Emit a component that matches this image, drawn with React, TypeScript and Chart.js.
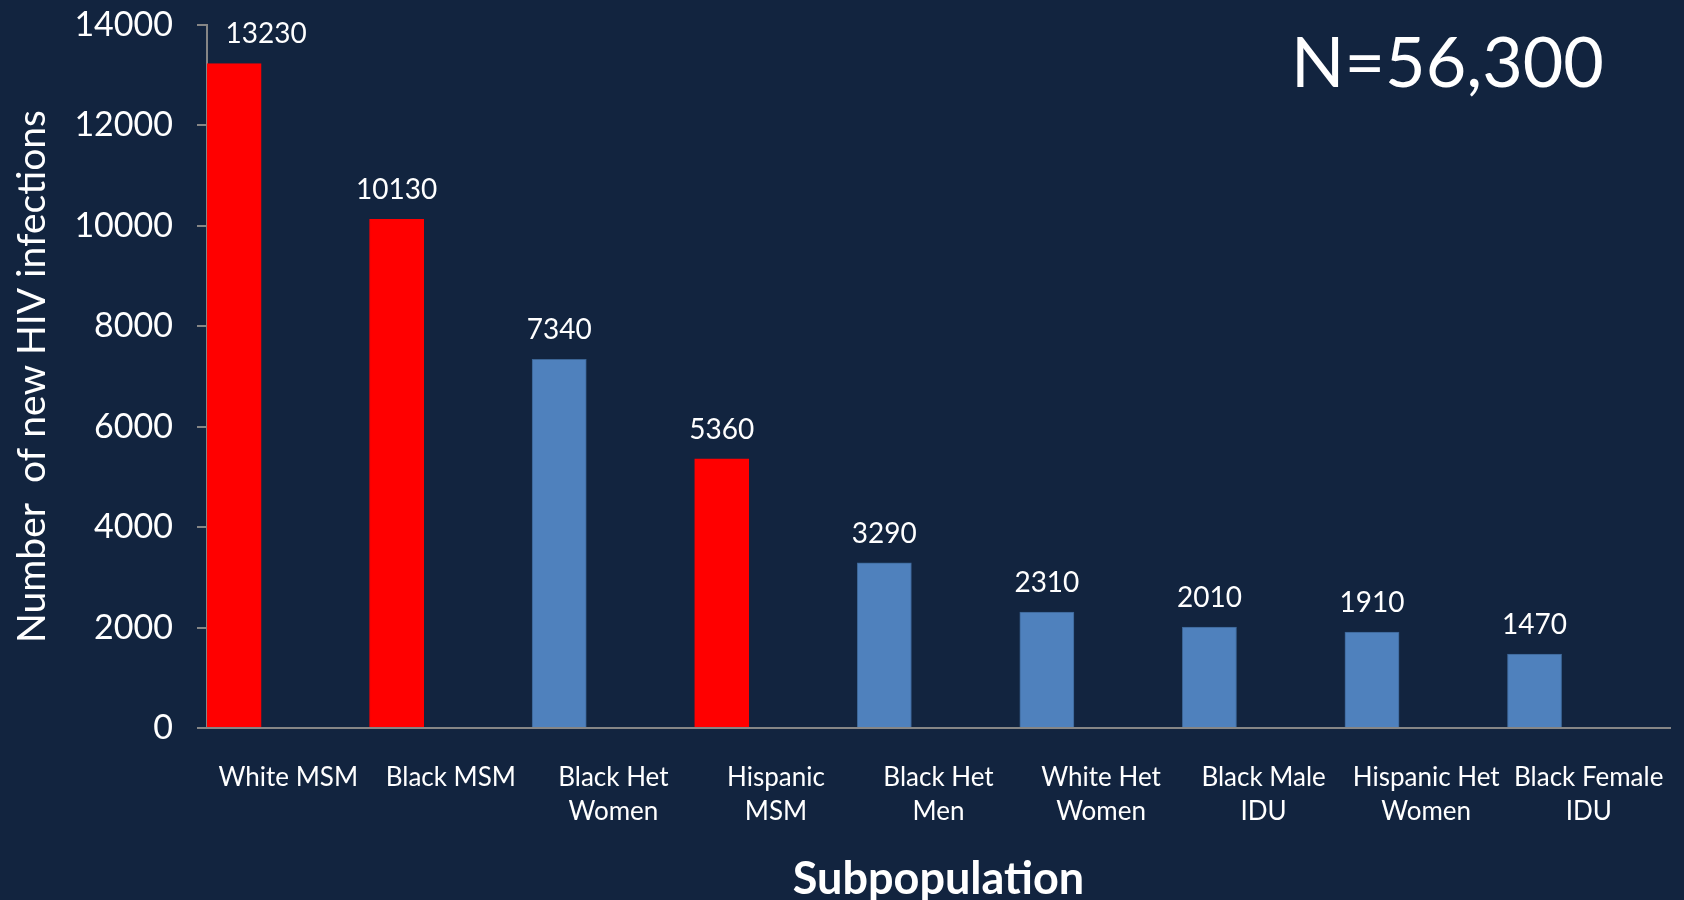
import React, { useEffect, useRef } from "react";
import { Chart, registerables } from "chart.js";

Chart.register(...registerables);

const categories: (string | string[])[] = [
  "White MSM",
  "Black MSM",
  ["Black Het", "Women"],
  ["Hispanic", "MSM"],
  ["Black Het", "Men"],
  ["White Het", "Women"],
  ["Black Male", "IDU"],
  ["Hispanic Het", "Women"],
  ["Black Female", "IDU"],
];
const infections: number[] = [13230, 10130, 7340, 5360, 3290, 2310, 2010, 1910, 1470];
const highlighted: boolean[] = [true, true, false, true, false, false, false, false, false];
const yTicks: number[] = [0, 2000, 4000, 6000, 8000, 10000, 12000, 14000];
const totalLabel = "N=56,300";
const yTitle = "Number  of new HIV infections";
const xTitle = "Subpopulation";

const BG = "#12243F";
const RED = "#FF0000";
const BLUE = "#4F81BD";
const BLUE_BORDER = "#3B6494";
const AXIS = "#868686";
const FONT = "Lato, 'Open Sans', sans-serif";

const W = 1684;
const H = 900;

export default function App() {
  const ref = useRef<HTMLCanvasElement | null>(null);

  useEffect(() => {
    if (!ref.current) return;
    const labelsPlugin = {
      id: "valueLabels",
      afterDatasetsDraw(chart: any) {
        const { ctx, chartArea } = chart;
        const meta = chart.getDatasetMeta(0);
        const size = 28;
        ctx.save();
        ctx.fillStyle = "#FFFFFF";
        ctx.font = `${size}px ${FONT}`;
        ctx.textAlign = "center";
        ctx.textBaseline = "middle";
        meta.data.forEach((bar: any, i: number) => {
          let x = bar.x;
          let y = bar.y - 29;
          if (y - size / 2 < chartArea.top) {
            x += 32;
            y -= 1;
          }
          ctx.fillText(String(infections[i]), x, y);
        });
        ctx.restore();
      },
      afterDraw(chart: any) {
        const { ctx } = chart;
        ctx.save();
        ctx.fillStyle = "#FFFFFF";
        ctx.font = `70px ${FONT}`;
        ctx.textAlign = "left";
        ctx.textBaseline = "middle";
        ctx.fillText(totalLabel, 1291, 64);
        ctx.restore();
      },
    };

    const chart = new Chart(ref.current, {
      type: "bar",
      data: {
        labels: categories,
        datasets: [
          {
            label: "New HIV infections",
            data: infections,
            backgroundColor: highlighted.map((h) => (h ? RED : BLUE)),
            borderColor: highlighted.map((h) => (h ? RED : BLUE_BORDER)),
            borderWidth: 1,
          },
          { label: "s2", data: [] },
          { label: "s3", data: [] },
        ],
      },
      options: {
        responsive: false,
        animation: false,
        datasets: { bar: { categoryPercentage: 1, barPercentage: 1 } },
        layout: { padding: { top: 25, right: 14, bottom: 0, left: 0 } },
        plugins: {
          legend: { display: false },
          tooltip: { enabled: false },
        },
        scales: {
          x: {
            grid: { display: false },
            border: { display: true, color: AXIS, width: 2 },
            ticks: {
              color: "#FFFFFF",
              font: { family: FONT, size: 26, lineHeight: 1.32 },
              padding: 24,
              maxRotation: 0,
              minRotation: 0,
              autoSkip: false,
            },
            title: {
              display: true,
              text: xTitle,
              color: "#FFFFFF",
              font: { family: FONT, size: 45, weight: "bold", lineHeight: 1 },
              padding: { top: 0, bottom: -2 },
            },
            afterFit: (s: any) => {
              s.height = 172;
              s.paddingLeft = 0;
              s.paddingRight = 0;
            },
          },
          y: {
            min: 0,
            max: 14000,
            afterBuildTicks: (s: any) => {
              s.ticks = yTicks.map((v) => ({ value: v }));
            },
            grid: {
              display: true,
              drawOnChartArea: false,
              drawTicks: true,
              tickLength: 10,
              color: AXIS,
              lineWidth: 2,
            },
            border: { display: true, color: AXIS, width: 2 },
            ticks: {
              color: "#FFFFFF",
              font: { family: FONT, size: 34 },
              padding: 24,
              callback: (v: any) => String(v),
            },
            title: {
              display: true,
              text: yTitle,
              color: "#FFFFFF",
              font: { family: FONT, size: 39, lineHeight: 1.2 },
              padding: { top: 9, bottom: 0 },
            },
            afterFit: (s: any) => {
              s.width = 207;
              s.paddingTop = 0;
              s.paddingBottom = 0;
            },
          },
        },
      },
      plugins: [labelsPlugin],
    });
    return () => chart.destroy();
  }, []);

  return (
    <div style={{ position: "fixed", left: 0, top: 0, width: W, height: H, background: BG, overflow: "hidden" }}>
      <canvas ref={ref} width={W} height={H} style={{ width: W, height: H, display: "block" }} />
    </div>
  );
}
